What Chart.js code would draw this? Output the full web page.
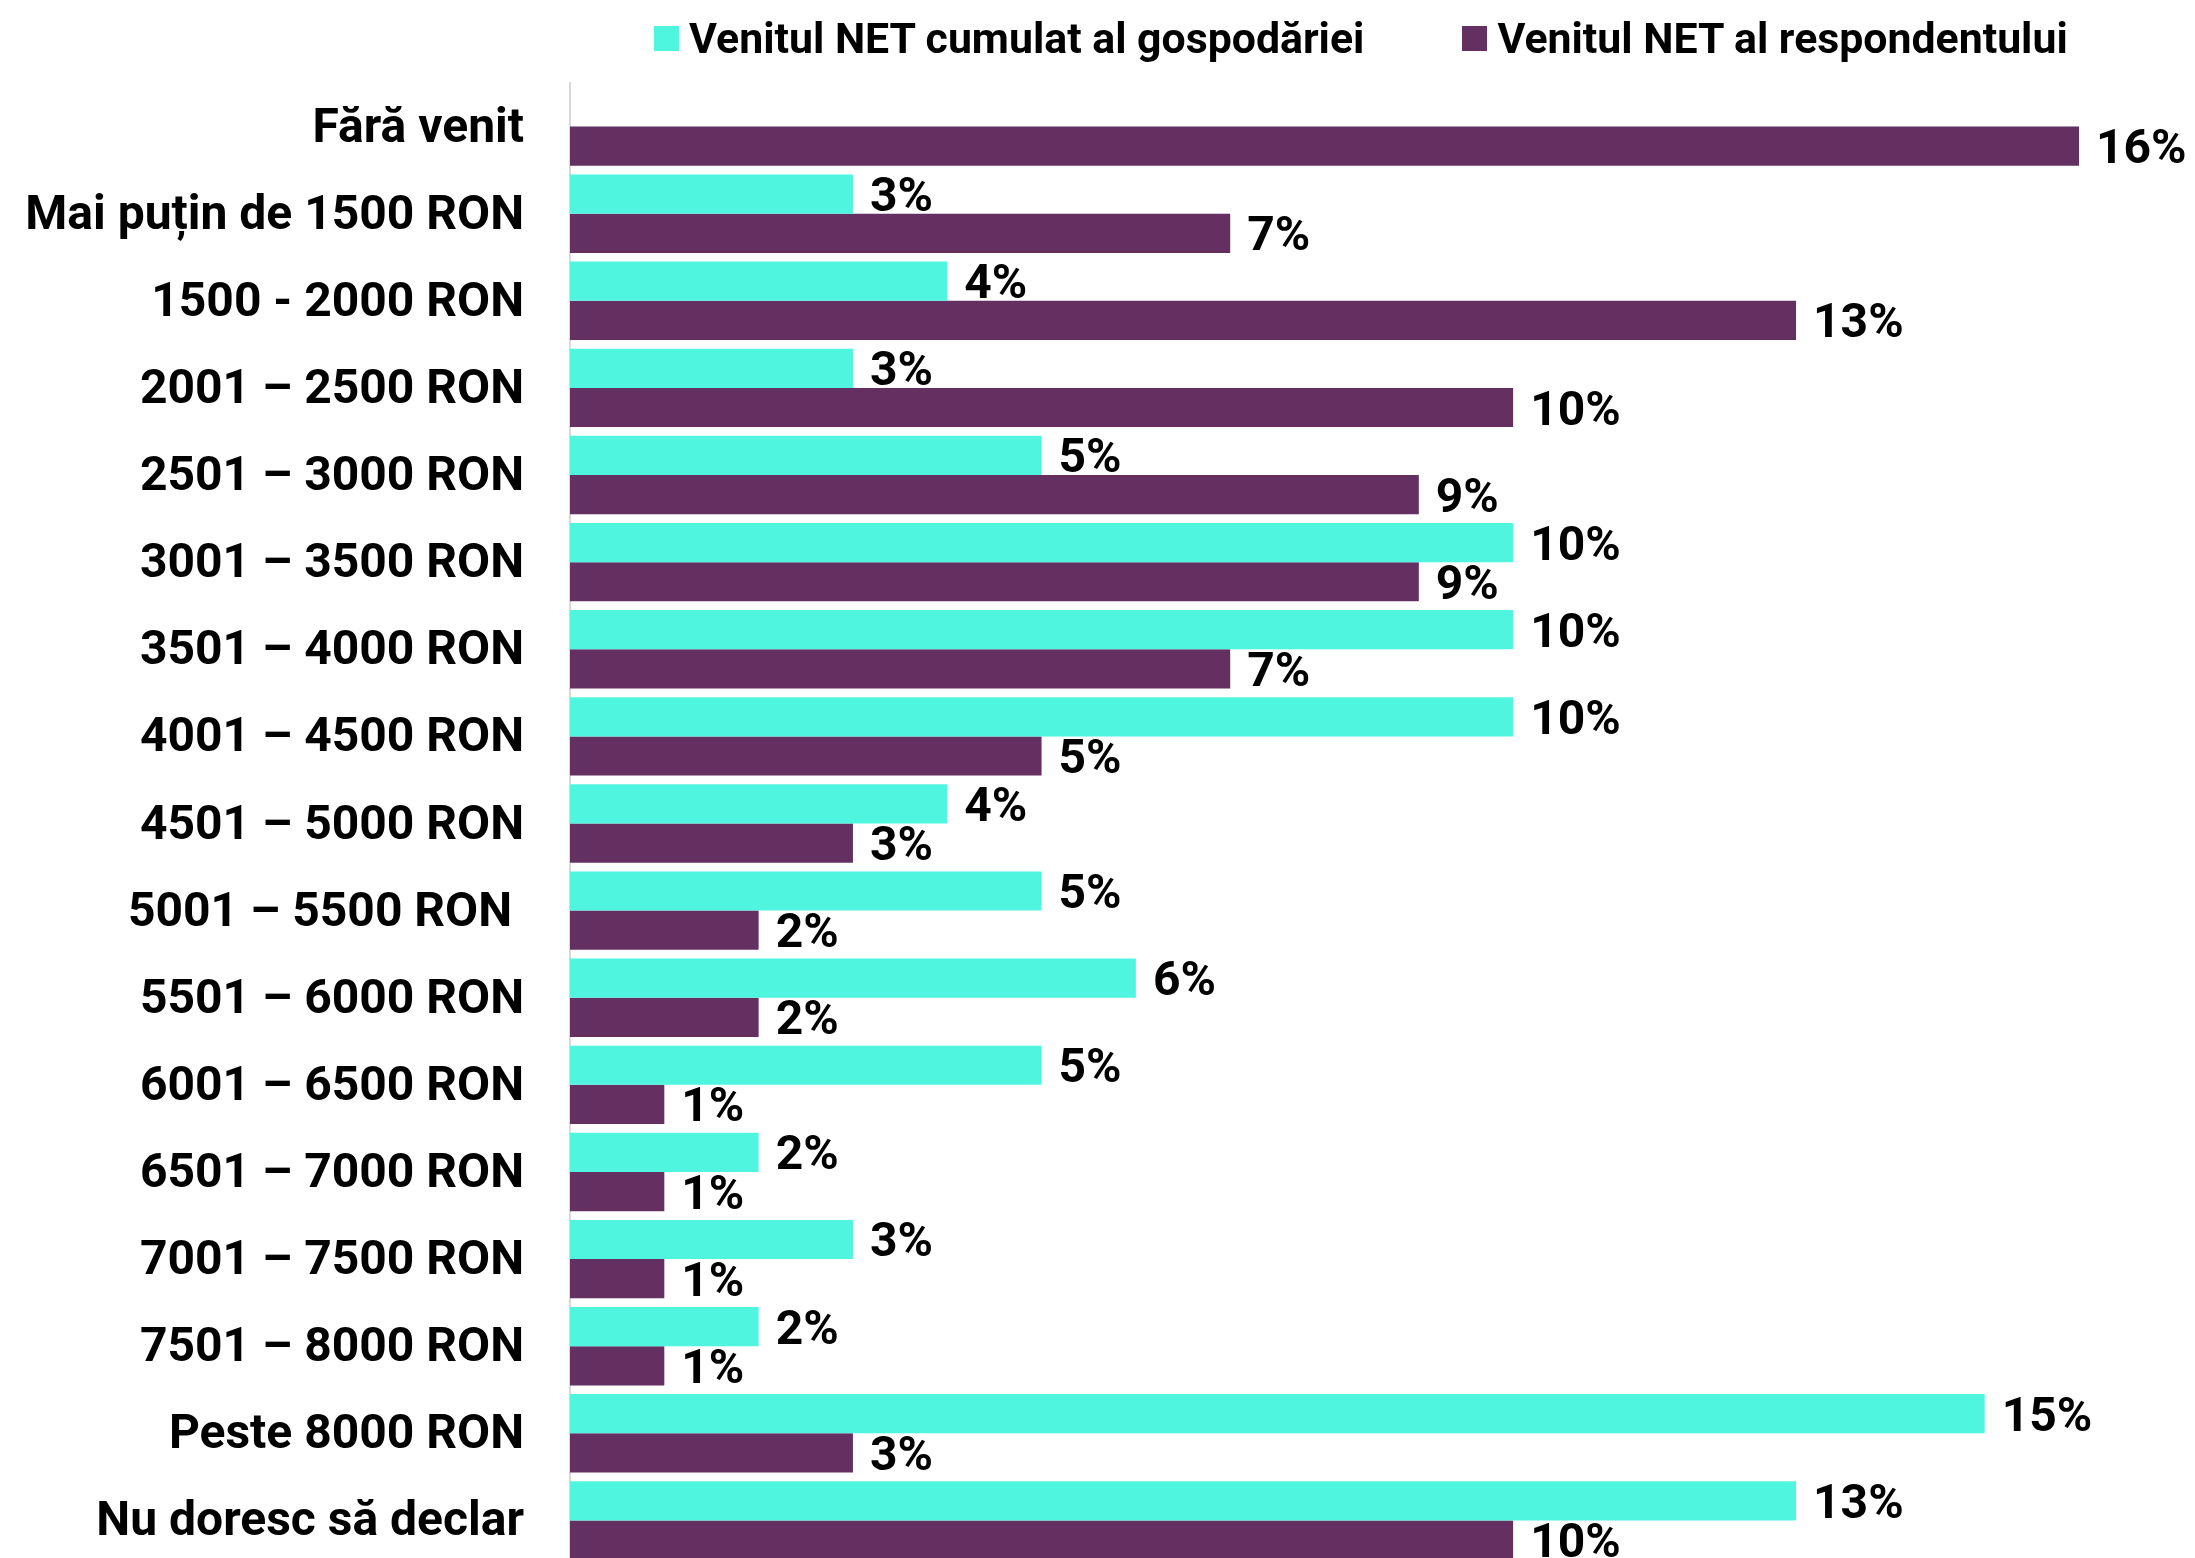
<!DOCTYPE html>
<html lang="ro">
<head>
<meta charset="utf-8">
<title>Venitul NET</title>
<script src="https://cdn.jsdelivr.net/npm/chart.js@4.4.0/dist/chart.umd.min.js"></script>
<style>
  html, body { margin: 0; padding: 0; background: #fff; overflow: hidden; }
  #wrap { position: relative; width: 2195px; height: 1558px; overflow: hidden; }
  #legenda {
    position: absolute; left: 654px; top: 14px;
    display: flex; align-items: center;
    font: bold 42.8px Roboto, sans-serif; line-height: 48px; color: #000; white-space: nowrap;
  }
  .item { display: flex; align-items: center; }
  .item + .item { margin-left: 98px; }
  .cutie { width: 25px; height: 25px; margin-right: 10px; }
  canvas { position: absolute; left: 0; top: 0; }
</style>
</head>
<body>
<div id="wrap">
  <canvas id="grafic" width="2195" height="1566"></canvas>
  <div id="legenda"></div>
</div>
<script>
// Intervale de venit (axa verticală)
const categorii = [
  'Fără venit',
  'Mai puțin de 1500 RON',
  '1500 - 2000 RON',
  '2001 – 2500 RON',
  '2501 – 3000 RON',
  '3001 – 3500 RON',
  '3501 – 4000 RON',
  '4001 – 4500 RON',
  '4501 – 5000 RON',
  '5001 – 5500 RON ',
  '5501 – 6000 RON',
  '6001 – 6500 RON',
  '6501 – 7000 RON',
  '7001 – 7500 RON',
  '7501 – 8000 RON',
  'Peste 8000 RON',
  'Nu doresc să declar'
];

// Procente pe serii
const venitGospodarie = [null, 3, 4, 3, 5, 10, 10, 10, 4, 5, 6, 5, 2, 3, 2, 15, 13];
const venitRespondent = [16, 7, 13, 10, 9, 9, 7, 5, 3, 2, 2, 1, 1, 1, 1, 3, 10];

const numeSerii = ['Venitul NET cumulat al gospodăriei', 'Venitul NET al respondentului'];
const culori = ['#50F5E0', '#642F61'];

const FONT = 'Roboto, sans-serif';

// Etichetele cu procente, la capătul fiecărei bare
const eticheteProcent = {
  id: 'eticheteProcent',
  afterDatasetsDraw(chart) {
    const ctx = chart.ctx;
    ctx.save();
    ctx.font = 'bold 48px ' + FONT;
    ctx.fillStyle = '#000';
    ctx.textAlign = 'left';
    ctx.textBaseline = 'middle';
    chart.data.datasets.forEach((ds, i) => {
      chart.getDatasetMeta(i).data.forEach((bar, j) => {
        const v = ds.data[j];
        if (v == null) return;
        ctx.fillText(v + '%', bar.x + 17, bar.y + 5);
      });
    });
    ctx.restore();
  }
};

function construiesteLegenda() {
  const leg = document.getElementById('legenda');
  numeSerii.forEach((nume, i) => {
    const item = document.createElement('div');
    item.className = 'item';
    const cutie = document.createElement('span');
    cutie.className = 'cutie';
    cutie.style.background = culori[i];
    const text = document.createElement('span');
    text.textContent = nume;
    item.appendChild(cutie);
    item.appendChild(text);
    leg.appendChild(item);
  });
}

function creeazaGrafic() {
  new Chart(document.getElementById('grafic'), {
    type: 'bar',
    data: {
      labels: categorii,
      datasets: [
        { label: numeSerii[0], data: venitGospodarie, backgroundColor: culori[0] },
        { label: numeSerii[1], data: venitRespondent, backgroundColor: culori[1] }
      ]
    },
    options: {
      indexAxis: 'y',
      responsive: false,
      animation: false,
      categoryPercentage: 0.9,
      barPercentage: 1.0,
      layout: { padding: { top: 83, right: 116, bottom: 2, left: 0 } },
      plugins: {
        legend: { display: false },
        tooltip: { enabled: false }
      },
      scales: {
        x: { min: 0, max: 16, display: false },
        y: {
          grid: { display: false, drawTicks: false },
          border: { display: true, color: '#d9d9d9', width: 2 },
          ticks: {
            color: '#000',
            padding: 46,
            labelOffset: 3,
            autoSkip: false,
            font: { family: FONT, size: 48, weight: 'bold' }
          },
          afterFit(scale) {
            // axa ocupă exact marginea stângă; fără spațiu suplimentar sus/jos
            scale.width = 570;
            scale.paddingTop = 0;
            scale.paddingBottom = 0;
          }
        }
      }
    },
    plugins: [eticheteProcent]
  });
}

construiesteLegenda();
document.fonts.load('bold 48px Roboto').then(creeazaGrafic, creeazaGrafic);
</script>
</body>
</html>
